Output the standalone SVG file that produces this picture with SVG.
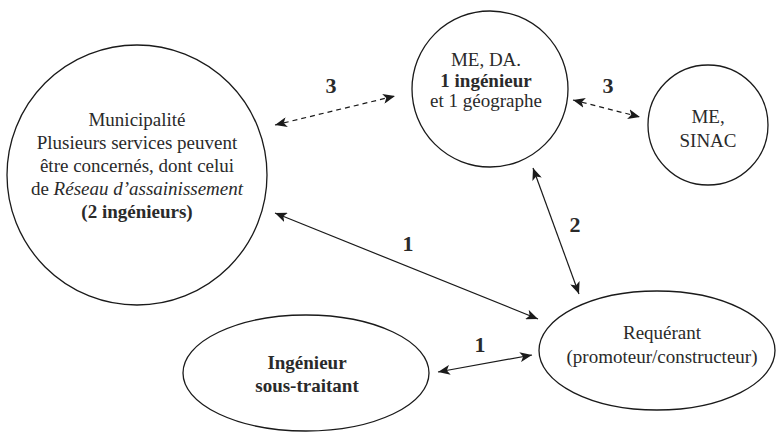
<svg xmlns="http://www.w3.org/2000/svg" width="778" height="432" viewBox="0 0 778 432">
<defs>
<style>
.node{fill:none;stroke:#1a1a1a;stroke-width:1.3}
text{font-family:'Liberation Serif','DejaVu Serif','Noto Serif',serif;fill:#2a2a2a;text-anchor:middle}
.t{font-size:19px}
.b{font-weight:bold}
.lab{font-size:22px;font-weight:bold}
.c{stroke:#1a1a1a;stroke-width:1.2;fill:none;marker-start:url(#ah);marker-end:url(#ah)}
.d{stroke-dasharray:5,4}
</style>
<marker id="ah" markerUnits="userSpaceOnUse" viewBox="0 0 12 10" refX="12" refY="5" markerWidth="12" markerHeight="10" orient="auto-start-reverse">
<path d="M0,0 L12,5 L0,10 L3,5 z" fill="#1a1a1a"/>
</marker>
</defs>
<rect width="778" height="432" fill="#fff"/>
<g id="connectors">
<line class="c d" x1="275" y1="125" x2="395" y2="96"/>
<line class="c d" x1="573" y1="100" x2="640" y2="117"/>
<line class="c" x1="275" y1="213" x2="538" y2="319"/>
<line class="c" x1="533" y1="168" x2="579" y2="294"/>
<line class="c" x1="438" y1="372" x2="532" y2="355"/>
<text class="lab" x="331" y="93" font-family="Liberation Serif, serif">3</text>
<text class="lab" x="608" y="93" font-family="Liberation Serif, serif">3</text>
<text class="lab" x="408" y="251" font-family="Liberation Serif, serif">1</text>
<text class="lab" x="575" y="232" font-family="Liberation Serif, serif">2</text>
<text class="lab" x="480" y="352" font-family="Liberation Serif, serif">1</text>
</g>
<g id="municipalite" font-family="Liberation Serif, serif">
<circle class="node" cx="137" cy="175" r="130"/>
<text class="t" x="137" y="126">Municipalité</text>
<text class="t" x="137" y="149">Plusieurs services peuvent</text>
<text class="t" x="137" y="172">être concernés, dont celui</text>
<text class="t" x="137" y="195">de <tspan font-style="italic">Réseau d’assainissement</tspan></text>
<text class="t b" x="137" y="218">(2 ingénieurs)</text>
</g>
<g id="me-da">
<circle class="node" cx="490" cy="89" r="78"/>
<text class="t" x="486" y="66">ME, DA.</text>
<text class="t b" x="486" y="87">1 ingénieur</text>
<text class="t" x="486" y="107">et 1 géographe</text>
</g>
<g id="me-sinac">
<circle class="node" cx="708" cy="125" r="60"/>
<text class="t" x="708" y="123">ME,</text>
<text class="t" x="708" y="147">SINAC</text>
</g>
<g id="requerant">
<ellipse class="node" cx="657" cy="350.5" rx="118" ry="59.5"/>
<text class="t" x="662" y="339">Requérant</text>
<text class="t" x="662" y="363">(promoteur/constructeur)</text>
</g>
<g id="ingenieur">
<ellipse class="node" cx="306" cy="373" rx="123" ry="58"/>
<text class="t b" x="307" y="369">Ingénieur</text>
<text class="t b" x="307" y="392">sous-traitant</text>
</g>
</svg>
